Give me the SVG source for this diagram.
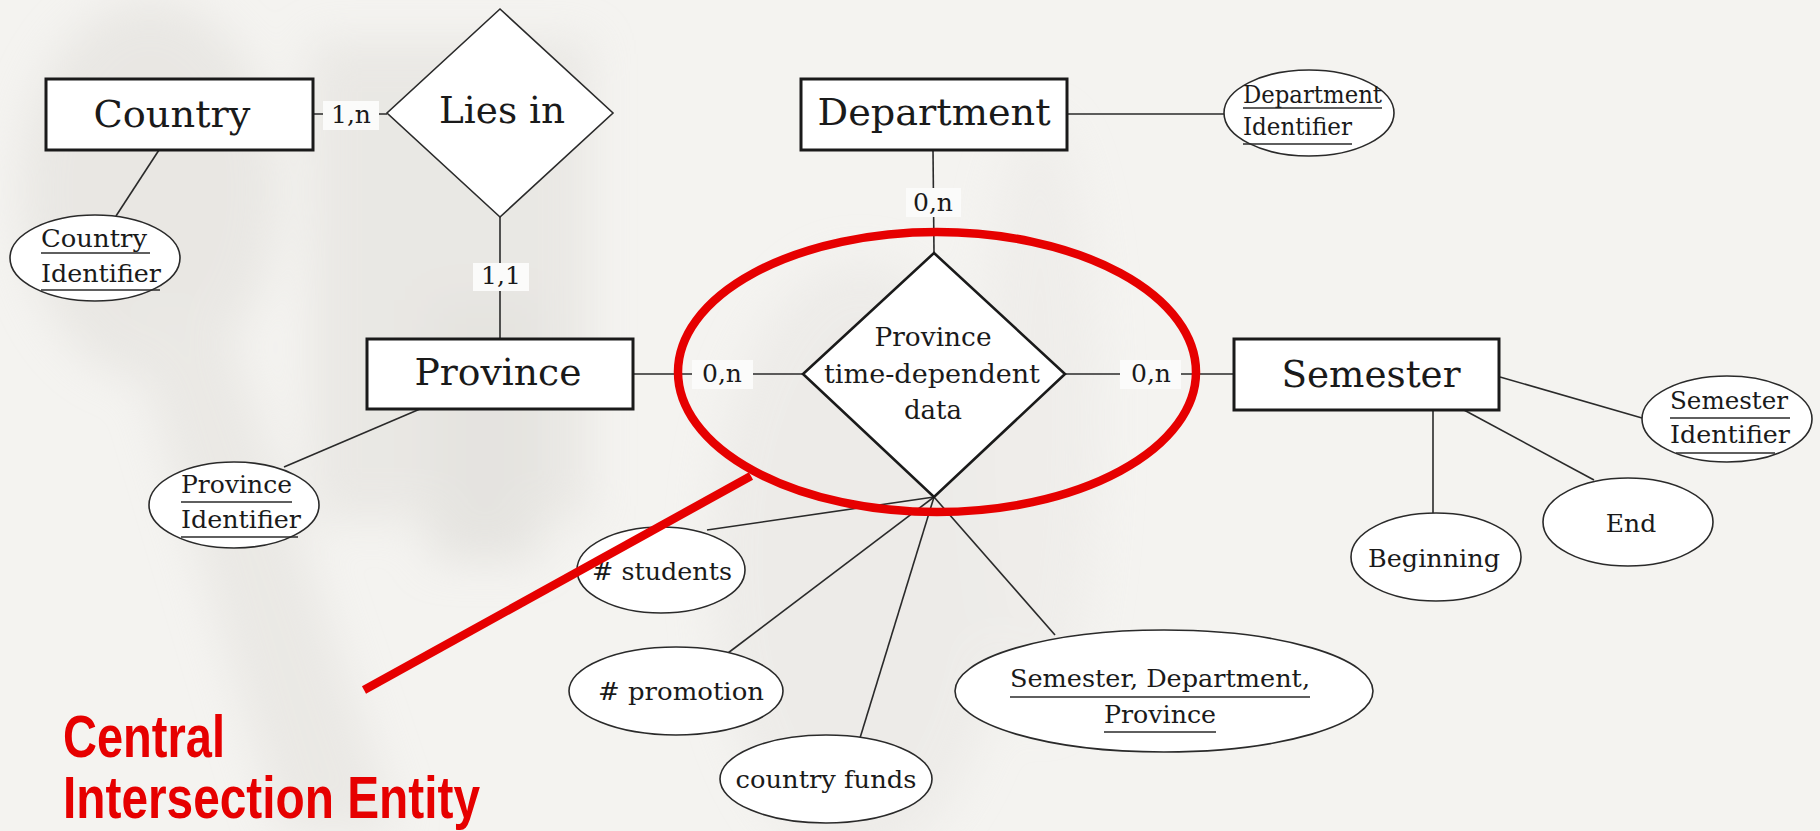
<svg xmlns="http://www.w3.org/2000/svg" width="1820" height="831" viewBox="0 0 1820 831">
  <defs>
    <filter id="soft" x="-30%" y="-30%" width="160%" height="160%">
      <feGaussianBlur stdDeviation="22"/>
    </filter>
    <style>
      .entity { fill: #ffffff; stroke: #1a1a1a; stroke-width: 3; }
      .rel { fill: #ffffff; stroke: #2a2a2a; stroke-width: 1.6; }
      .rel-main { fill: #ffffff; stroke: #1a1a1a; stroke-width: 2.6; }
      .attr { fill: #ffffff; stroke: #2a2a2a; stroke-width: 1.6; }
      .link { stroke: #2a2a2a; stroke-width: 1.6; fill: none; }
      .uline { stroke: #2a2a2a; stroke-width: 1.4; }
      .card-bg { fill: #fbfbfa; }
      text { font-family: "DejaVu Serif", "Liberation Serif", serif; fill: #1a1a1a; }
      .big { font-size: 38px; text-anchor: middle; }
      .card { font-size: 25px; text-anchor: middle; }
      .lbl { font-size: 25px; }
      .mid { text-anchor: middle; }
      .note { font-family: "Liberation Sans", Arial, sans-serif; font-weight: bold; font-size: 60px; fill: #e60000; }
    </style>
  </defs>

  <!-- washed-out photo backdrop -->
  <rect x="0" y="0" width="1820" height="831" fill="#f4f3f0"/>
  <g filter="url(#soft)" opacity="0.6">
    <ellipse cx="150" cy="190" rx="130" ry="190" fill="#e2e0dc"/>
    <path d="M120 300 L220 300 L400 831 L280 831 Z" fill="#e4e2de"/>
    <rect x="310" y="40" width="280" height="480" fill="#e3e1dd"/>
    <rect x="430" y="300" width="110" height="260" fill="#dcdad6"/>
    <ellipse cx="860" cy="560" rx="150" ry="300" fill="#e9e7e4"/>
    <ellipse cx="1040" cy="420" rx="60" ry="300" fill="#eceae7"/>
  </g>

  <!-- connectors -->
  <g id="connectors">
    <line class="link" x1="313" y1="114" x2="387" y2="114"/>
    <line class="link" x1="159" y1="150" x2="116" y2="216"/>
    <line class="link" x1="500" y1="217" x2="500" y2="339"/>
    <line class="link" x1="1067" y1="114" x2="1224" y2="114"/>
    <line class="link" x1="933" y1="150" x2="934" y2="253"/>
    <line class="link" x1="420" y1="409" x2="284" y2="467"/>
    <line class="link" x1="633" y1="374" x2="803" y2="374"/>
    <line class="link" x1="1065" y1="374" x2="1234" y2="374"/>
    <line class="link" x1="1500" y1="377" x2="1642" y2="418"/>
    <line class="link" x1="1433" y1="410" x2="1433" y2="514"/>
    <line class="link" x1="1464" y1="410" x2="1594" y2="480"/>
    <line class="link" x1="934" y1="497" x2="707" y2="530"/>
    <line class="link" x1="934" y1="497" x2="728" y2="653"/>
    <line class="link" x1="934" y1="497" x2="860" y2="738"/>
    <line class="link" x1="934" y1="497" x2="1055" y2="635"/>

    <!-- cardinalities -->
    <rect class="card-bg" x="323" y="101" width="56" height="29"/>
    <text class="card" x="351" y="123">1,n</text>
    <rect class="card-bg" x="473" y="263" width="56" height="28"/>
    <text class="card" x="501" y="284">1,1</text>
    <rect class="card-bg" x="906" y="188" width="55" height="29"/>
    <text class="card" x="933" y="211">0,n</text>
    <rect class="card-bg" x="692" y="360" width="61" height="29"/>
    <text class="card" x="722" y="382">0,n</text>
    <rect class="card-bg" x="1120" y="360" width="61" height="29"/>
    <text class="card" x="1151" y="382">0,n</text>
  </g>

  <!-- entities -->
  <g id="country">
    <rect class="entity" x="46" y="79" width="267" height="71"/>
    <text class="big" x="172" y="127" textLength="157" lengthAdjust="spacingAndGlyphs">Country</text>
  </g>
  <g id="department">
    <rect class="entity" x="801" y="79" width="266" height="71"/>
    <text class="big" x="934" y="125" textLength="233" lengthAdjust="spacingAndGlyphs">Department</text>
  </g>
  <g id="province">
    <rect class="entity" x="367" y="339" width="266" height="70"/>
    <text class="big" x="498" y="385" textLength="167" lengthAdjust="spacingAndGlyphs">Province</text>
  </g>
  <g id="semester">
    <rect class="entity" x="1234" y="339" width="265" height="71"/>
    <text class="big" x="1371" y="387" textLength="179" lengthAdjust="spacingAndGlyphs">Semester</text>
  </g>

  <!-- relationships -->
  <g id="lies-in">
    <polygon class="rel" points="500,9 613,113 500,217 387,113"/>
    <text class="big" x="502" y="123" textLength="126" lengthAdjust="spacingAndGlyphs">Lies in</text>
  </g>
  <g id="province-time-data">
    <polygon class="rel-main" points="934,253 1065,374 934,497 803,374"/>
    <text class="mid" x="933" y="346" font-size="26" textLength="117" lengthAdjust="spacingAndGlyphs">Province</text>
    <text class="mid" x="932" y="383" font-size="26" textLength="216" lengthAdjust="spacingAndGlyphs">time-dependent</text>
    <text class="mid" x="933" y="419" font-size="26">data</text>
  </g>

  <!-- attributes -->
  <g id="country-identifier">
    <ellipse class="attr" cx="95" cy="258" rx="85" ry="43"/>
    <text class="lbl" x="41" y="247" textLength="106" lengthAdjust="spacingAndGlyphs">Country</text>
    <line class="uline" x1="41" y1="253" x2="150" y2="253"/>
    <text class="lbl" x="41" y="282" textLength="120" lengthAdjust="spacingAndGlyphs">Identifier</text>
    <line class="uline" x1="41" y1="290" x2="160" y2="290"/>
  </g>
  <g id="department-identifier">
    <ellipse class="attr" cx="1309" cy="113" rx="85" ry="43"/>
    <text class="lbl" x="1243" y="103" font-size="23" textLength="139" lengthAdjust="spacingAndGlyphs">Department</text>
    <line class="uline" x1="1243" y1="108" x2="1382" y2="108"/>
    <text class="lbl" x="1243" y="135" font-size="23" textLength="109" lengthAdjust="spacingAndGlyphs">Identifier</text>
    <line class="uline" x1="1243" y1="144" x2="1352" y2="144"/>
  </g>
  <g id="province-identifier">
    <ellipse class="attr" cx="234" cy="505" rx="85" ry="43"/>
    <text class="lbl" x="181" y="493" textLength="111" lengthAdjust="spacingAndGlyphs">Province</text>
    <line class="uline" x1="181" y1="502" x2="292" y2="502"/>
    <text class="lbl" x="181" y="528" textLength="120" lengthAdjust="spacingAndGlyphs">Identifier</text>
    <line class="uline" x1="181" y1="537" x2="298" y2="537"/>
  </g>
  <g id="semester-identifier">
    <ellipse class="attr" cx="1727" cy="419" rx="85" ry="43"/>
    <text class="lbl" x="1670" y="409" textLength="118" lengthAdjust="spacingAndGlyphs">Semester</text>
    <line class="uline" x1="1670" y1="418" x2="1790" y2="418"/>
    <text class="lbl" x="1670" y="443" textLength="120" lengthAdjust="spacingAndGlyphs">Identifier</text>
    <line class="uline" x1="1676" y1="453" x2="1775" y2="453"/>
  </g>
  <g id="beginning">
    <ellipse class="attr" cx="1436" cy="557" rx="85" ry="44"/>
    <text class="lbl mid" x="1434" y="567" textLength="132" lengthAdjust="spacingAndGlyphs">Beginning</text>
  </g>
  <g id="end">
    <ellipse class="attr" cx="1628" cy="522" rx="85" ry="44"/>
    <text class="lbl mid" x="1631" y="532">End</text>
  </g>
  <g id="students">
    <ellipse class="attr" cx="661" cy="570" rx="84" ry="43"/>
    <text class="lbl mid" x="662" y="580" textLength="140" lengthAdjust="spacingAndGlyphs"># students</text>
  </g>
  <g id="promotion">
    <ellipse class="attr" cx="676" cy="691" rx="107" ry="44"/>
    <text class="lbl mid" x="681" y="700" textLength="166" lengthAdjust="spacingAndGlyphs"># promotion</text>
  </g>
  <g id="country-funds">
    <ellipse class="attr" cx="826" cy="779" rx="106" ry="44"/>
    <text class="lbl mid" x="826" y="788" textLength="181" lengthAdjust="spacingAndGlyphs">country funds</text>
  </g>
  <g id="composite-key">
    <ellipse class="attr" cx="1164" cy="691" rx="209" ry="61"/>
    <text class="lbl mid" x="1160" y="687" textLength="300" lengthAdjust="spacingAndGlyphs">Semester, Department,</text>
    <line class="uline" x1="1010" y1="697" x2="1310" y2="697"/>
    <text class="lbl mid" x="1160" y="723" textLength="112" lengthAdjust="spacingAndGlyphs">Province</text>
    <line class="uline" x1="1104" y1="732" x2="1216" y2="732"/>
  </g>

  <!-- highlight callout -->
  <g id="callout">
    <ellipse cx="937" cy="372" rx="259" ry="140" fill="none" stroke="#e60000" stroke-width="8.5"/>
    <line x1="751" y1="476" x2="364" y2="690" stroke="#e60000" stroke-width="8.5"/>
    <text class="note" x="63" y="757" textLength="162" lengthAdjust="spacingAndGlyphs">Central</text>
    <text class="note" x="63" y="818" textLength="417" lengthAdjust="spacingAndGlyphs">Intersection Entity</text>
  </g>
</svg>
